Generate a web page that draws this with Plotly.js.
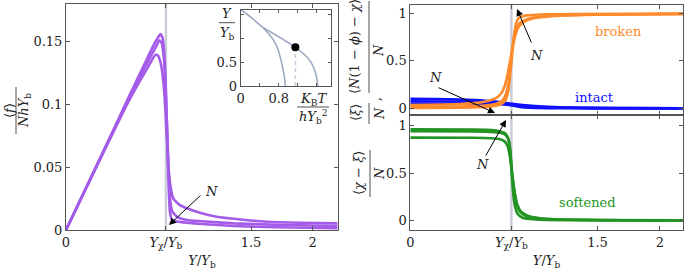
<!DOCTYPE html>
<html><head><meta charset="utf-8">
<script src="https://cdn.plot.ly/plotly-3.0.1.min.js"></script>
<style>html,body{margin:0;padding:0;background:#fff;overflow:hidden}#c{width:685px;height:270px}</style>
</head><body><div id="c"></div><script>
// ---------- data ----------
const yChi = 0.81;
const xTickVals = [0, yChi, 1.5, 2];
const xTickText = ['0', '<i>Y</i><sub>χ</sub>/<i>Y</i><sub>b</sub>', '1.5', '2'];
const xTitle = '<i>Y</i>/<i>Y</i><sub>b</sub>';

// mean force, three N
const forceX1 = [0,0.3,0.5,0.6,0.66,0.70,0.725,0.745,0.765,0.785,0.80,0.815,0.83,0.85,0.87,0.92,0.98,1.1,1.22,1.4,1.63,1.9,2.2];
const forceY1 = [0,0.061,0.101,0.119,0.129,0.136,0.1395,0.139,0.134,0.122,0.105,0.078,0.05,0.033,0.025,0.02,0.0173,0.0133,0.0106,0.0085,0.0066,0.0058,0.0053];
const forceX2 = [0,0.3,0.5,0.62,0.69,0.73,0.755,0.775,0.795,0.81,0.822,0.833,0.845,0.86,0.9,0.98,1.1,1.36,1.7,2.2];
const forceY2 = [0,0.062,0.103,0.126,0.139,0.146,0.151,0.149,0.135,0.105,0.075,0.045,0.024,0.015,0.0105,0.008,0.007,0.0053,0.0042,0.0032];
const forceX3 = [0,0.3,0.5,0.65,0.72,0.75,0.767,0.785,0.80,0.812,0.822,0.832,0.843,0.86,0.9,0.98,1.1,1.36,1.7,2.2];
const forceY3 = [0,0.062,0.104,0.135,0.149,0.154,0.156,0.152,0.135,0.105,0.07,0.035,0.014,0.008,0.0068,0.0058,0.0048,0.0032,0.0022,0.0014];

// broken fraction
const brokenX1 = [0,0.4,0.55,0.63,0.69,0.73,0.76,0.78,0.80,0.82,0.84,0.87,0.91,1.0,1.2,1.5,2.19];
const brokenY1 = [0.035,0.045,0.06,0.08,0.11,0.16,0.25,0.36,0.5,0.64,0.76,0.86,0.91,0.95,0.975,0.985,0.99];
const brokenX2 = [0,0.4,0.6,0.68,0.73,0.76,0.785,0.80,0.815,0.83,0.85,0.88,0.95,1.1,1.4,2.19];
const brokenY2 = [0.015,0.02,0.03,0.045,0.075,0.13,0.25,0.42,0.6,0.74,0.84,0.9,0.945,0.97,0.985,0.995];
const brokenX3 = [0,0.5,0.65,0.72,0.76,0.785,0.80,0.815,0.83,0.845,0.87,0.92,1.1,2.19];
const brokenY3 = [0.005,0.01,0.02,0.04,0.08,0.18,0.35,0.55,0.75,0.88,0.95,0.975,0.99,0.998];

// intact fraction
const intactX1 = [0,0.2,0.4,0.6,0.7,0.8,0.9,1.0,1.2,1.5,1.8,2.19];
const intactY1 = [0.10,0.098,0.092,0.08,0.068,0.05,0.035,0.024,0.012,0.005,0.002,0.001];
const intactX2 = [0,0.3,0.5,0.65,0.75,0.82,0.9,1.0,1.2,1.5,2.19];
const intactY2 = [0.075,0.072,0.066,0.058,0.048,0.035,0.022,0.014,0.006,0.002,0.0];
const intactX3 = [0,0.3,0.5,0.65,0.75,0.82,0.88,0.95,1.1,1.5,2.19];
const intactY3 = [0.05,0.049,0.047,0.045,0.04,0.03,0.015,0.007,0.002,0.0,0.0];

// softened fraction
const softX1 = [0,0.5,0.65,0.72,0.76,0.78,0.795,0.805,0.815,0.825,0.84,0.86,0.9,1.0,1.3,2.19];
const softY1 = [0.962,0.96,0.955,0.94,0.92,0.88,0.8,0.65,0.45,0.28,0.14,0.07,0.03,0.012,0.004,0.0];
const softX2 = [0,0.5,0.65,0.72,0.76,0.785,0.80,0.81,0.82,0.835,0.85,0.88,0.93,1.0,1.2,1.5,2.19];
const softY2 = [0.941,0.94,0.935,0.925,0.905,0.86,0.76,0.6,0.45,0.3,0.18,0.09,0.045,0.025,0.01,0.004,0.001];
const softX3 = [0,0.5,0.65,0.71,0.75,0.775,0.795,0.81,0.825,0.84,0.86,0.89,0.95,1.05,1.3,1.7,2.19];
const softY3 = [0.874,0.873,0.868,0.86,0.84,0.8,0.7,0.55,0.4,0.27,0.16,0.09,0.045,0.022,0.008,0.003,0.001];

// inset phase diagram
const insetOuterX = [0,0.2,0.46,0.8,1.15,1.41,1.52,1.58,1.61,1.62];
const insetOuterY = [1.6,1.45,1.23,1.03,0.81,0.59,0.42,0.25,0.1,0];
const insetInnerX = [0.46,0.6,0.74,0.82,0.88,0.92,0.94];
const insetInnerY = [1.23,1.08,0.87,0.65,0.4,0.18,0];
const insetPointX = [1.15];
const insetPointY = [0.81];

// ---------- style ----------
const W = 685, H = 270;
const px = x => x / W, py = y => 1 - y / H;
const FONT = 'DejaVu Serif';
const PURPLE = '#a45ce8', ORANGE = '#ff8a2c', BLUE = '#1010ff', GREEN = '#239423';
const GREYLINE = '#c9ced9', AXC = '#555';

function line(x, y, color, xa, ya, w) {
  return {x, y, xaxis: xa, yaxis: ya, mode: 'lines', type: 'scatter',
    line: {color, width: w || 2.6, shape: 'spline', smoothing: 0.5}, hoverinfo: 'skip', showlegend: false};
}
const traces = [
  line(forceX1, forceY1, PURPLE, 'x', 'y'),
  line(forceX2, forceY2, PURPLE, 'x', 'y'),
  line(forceX3, forceY3, PURPLE, 'x', 'y'),
  line(intactX1, intactY1, BLUE, 'x2', 'y2'),
  line(intactX2, intactY2, BLUE, 'x2', 'y2'),
  line(intactX3, intactY3, BLUE, 'x2', 'y2'),
  line(brokenX1, brokenY1, ORANGE, 'x2', 'y2'),
  line(brokenX2, brokenY2, ORANGE, 'x2', 'y2'),
  line(brokenX3, brokenY3, ORANGE, 'x2', 'y2'),
  line(softX1, softY1, GREEN, 'x4', 'y4'),
  line(softX2, softY2, GREEN, 'x4', 'y4'),
  line(softX3, softY3, GREEN, 'x4', 'y4'),
  line(insetOuterX, insetOuterY, '#9eabc2', 'x3', 'y3', 1.6),
  line(insetInnerX, insetInnerY, '#9eabc2', 'x3', 'y3', 1.6),
  {x: [insetPointX[0], insetPointX[0]], y: [0, insetPointY[0]], xaxis: 'x3', yaxis: 'y3', mode: 'lines',
    line: {color: '#c9d1e0', width: 1.6, dash: '4px,3px'}, hoverinfo: 'skip', showlegend: false},
  {x: insetPointX, y: insetPointY, xaxis: 'x3', yaxis: 'y3', mode: 'markers',
    marker: {color: '#000', size: 8}, hoverinfo: 'skip', showlegend: false},
  // x-axis titles placed on a full-figure pixel overlay
  {x: [202, 546.5], y: [262, 262], xaxis: 'x5', yaxis: 'y5', mode: 'text', text: [xTitle, xTitle],
    textposition: 'middle center', textfont: {family: FONT, size: 13, color: '#222'}, cliponaxis: false,
    hoverinfo: 'skip', showlegend: false}
];

const baseAxis = {
  showgrid: false, zeroline: false, showline: true, linecolor: AXC, linewidth: 1,
  mirror: 'ticks', ticks: 'inside', ticklen: 4, tickcolor: AXC, tickwidth: 1,
  tickfont: {family: FONT, size: 13, color: '#222'}, automargin: false, fixedrange: true
};
const A = o => Object.assign({}, baseAxis, o);

const layout = {
  width: W, height: H, margin: {l: 0, r: 0, t: 0, b: 0},
  paper_bgcolor: '#fff', plot_bgcolor: 'rgba(0,0,0,0)', showlegend: false,
  font: {family: FONT, size: 13, color: '#222'},
  xaxis: A({domain: [px(66), px(338)], anchor: 'y', range: [0, 2.205], tickmode: 'array', tickvals: xTickVals, ticktext: xTickText}),
  yaxis: A({domain: [py(230), py(4)], anchor: 'x', range: [0, 0.18], tickmode: 'array', tickvals: [0, 0.05, 0.1, 0.15], ticktext: ['0', '0.05', '0.1', '0.15']}),
  xaxis2: A({domain: [px(410.3), px(683)], anchor: 'y2', range: [0, 2.185], tickmode: 'array', tickvals: xTickVals, showticklabels: false}),
  yaxis2: A({domain: [py(115), py(4.7)], anchor: 'x2', range: [-0.07, 1.09], tickmode: 'array', tickvals: [0, 0.5, 1], ticktext: ['0', '0.5', '1']}),
  xaxis4: A({domain: [px(410.3), px(683)], anchor: 'y4', range: [0, 2.185], tickmode: 'array', tickvals: xTickVals, ticktext: xTickText}),
  yaxis4: A({domain: [py(230), py(115)], anchor: 'x4', range: [-0.1, 1.113], tickmode: 'array', tickvals: [0, 0.5, 1], ticktext: ['0', '0.5', '1']}),
  xaxis3: A({domain: [px(240.7), px(331)], anchor: 'y3', range: [0, 1.9], tickmode: 'array', tickvals: [0, 0.4, 0.8, 1.2, 1.6], ticktext: ['0', '', '0.8', '', ''], ticklen: 3}),
  yaxis3: A({domain: [py(86), py(9.5)], anchor: 'x3', range: [0, 1.6], tickmode: 'array', tickvals: [0, 0.5, 1, 1.5], ticktext: ['0', '0.5', '', ''], ticklen: 3}),
  xaxis5: {domain: [0, 1], anchor: 'y5', range: [0, W], visible: false, fixedrange: true},
  yaxis5: {domain: [0, 1], anchor: 'x5', range: [H, 0], visible: false, fixedrange: true},
  shapes: [
    {type: 'line', layer: 'below', xref: 'x', yref: 'paper', x0: yChi, x1: yChi, y0: py(230), y1: py(4), line: {color: GREYLINE, width: 2.5}},
    {type: 'line', layer: 'below', xref: 'x2', yref: 'paper', x0: yChi, x1: yChi, y0: py(230), y1: py(4.7), line: {color: GREYLINE, width: 2.5}},
    // fraction bars
    {type: 'line', xref: 'paper', yref: 'paper', x0: px(16), x1: px(16), y0: py(87), y1: py(134), line: {color: '#222', width: 0.8}},
    {type: 'line', xref: 'paper', yref: 'paper', x0: px(369), x1: px(369), y0: py(1), y1: py(93), line: {color: '#222', width: 0.8}},
    {type: 'line', xref: 'paper', yref: 'paper', x0: px(369), x1: px(369), y0: py(103), y1: py(124), line: {color: '#222', width: 0.8}},
    {type: 'line', xref: 'paper', yref: 'paper', x0: px(370), x1: px(370), y0: py(150), y1: py(197), line: {color: '#222', width: 0.8}},
    {type: 'line', xref: 'paper', yref: 'paper', x0: px(219), x1: px(235), y0: py(22.7), y1: py(22.7), line: {color: '#222', width: 0.8}},
    {type: 'line', xref: 'paper', yref: 'paper', x0: px(297), x1: px(329), y0: py(107), y1: py(107), line: {color: '#222', width: 0.8}}
  ],
  annotations: []
};

function txt(x, y, text, opts) {
  layout.annotations.push(Object.assign({xref: 'paper', yref: 'paper', x: px(x), y: py(y), text, showarrow: false,
    xanchor: 'center', yanchor: 'middle', font: {family: FONT, size: 13, color: '#222'}}, opts || {}));
}
function arrow(hx, hy, tx, ty) {
  layout.annotations.push({xref: 'paper', yref: 'paper', x: px(hx), y: py(hy), ax: tx - hx, ay: ty - hy, text: '',
    showarrow: true, arrowhead: 2, arrowsize: 1.4, arrowwidth: 1, arrowcolor: '#000', standoff: 0, startstandoff: 0});
}
// left y-label fraction
txt(9, 111, '⟨<i>f</i>⟩', {textangle: -90});
txt(24, 111, '<i>NhY</i><sub>b</sub>', {textangle: -90});
// right top y-label
txt(355, 47, '⟨<i>N</i>(1 − <i>ϕ</i>) − <i>χ</i>⟩', {textangle: -90});
txt(379, 50, '<i>N</i>', {textangle: -90});
txt(375, 99, ',', {textangle: -90});
txt(355, 113, '⟨<i>ξ</i>⟩', {textangle: -90});
txt(379, 113, '<i>N</i>', {textangle: -90});
// right bottom y-label
txt(358, 173, '⟨<i>χ</i> − <i>ξ</i>⟩', {textangle: -90});
txt(379, 173, '<i>N</i>', {textangle: -90});
// inset labels
txt(227, 13, '<i>Y</i>');
txt(227, 33, '<i>Y</i><sub>b</sub>');
txt(313, 99, '<i>K</i><sub>B</sub><i>T</i>');
txt(313, 117, '<i>hY</i><sub>b</sub><sup>2</sup>');
// series labels
txt(618, 31, 'broken', {font: {family: FONT, size: 13, color: ORANGE}});
txt(594, 97, 'intact', {font: {family: FONT, size: 13, color: BLUE}});
txt(587, 202, 'softened', {font: {family: FONT, size: 13, color: GREEN}});
// N arrows
arrow(169, 225, 202, 194); txt(211, 191, '<i>N</i>');
arrow(517, 9, 532, 44); txt(536, 55, '<i>N</i>');
arrow(495, 113, 437, 87); txt(435, 78, '<i>N</i>');
arrow(506, 120, 485, 157); txt(482, 164, '<i>N</i>');

Plotly.newPlot('c', traces, layout, {staticPlot: true, displayModeBar: false});
</script></body></html>
